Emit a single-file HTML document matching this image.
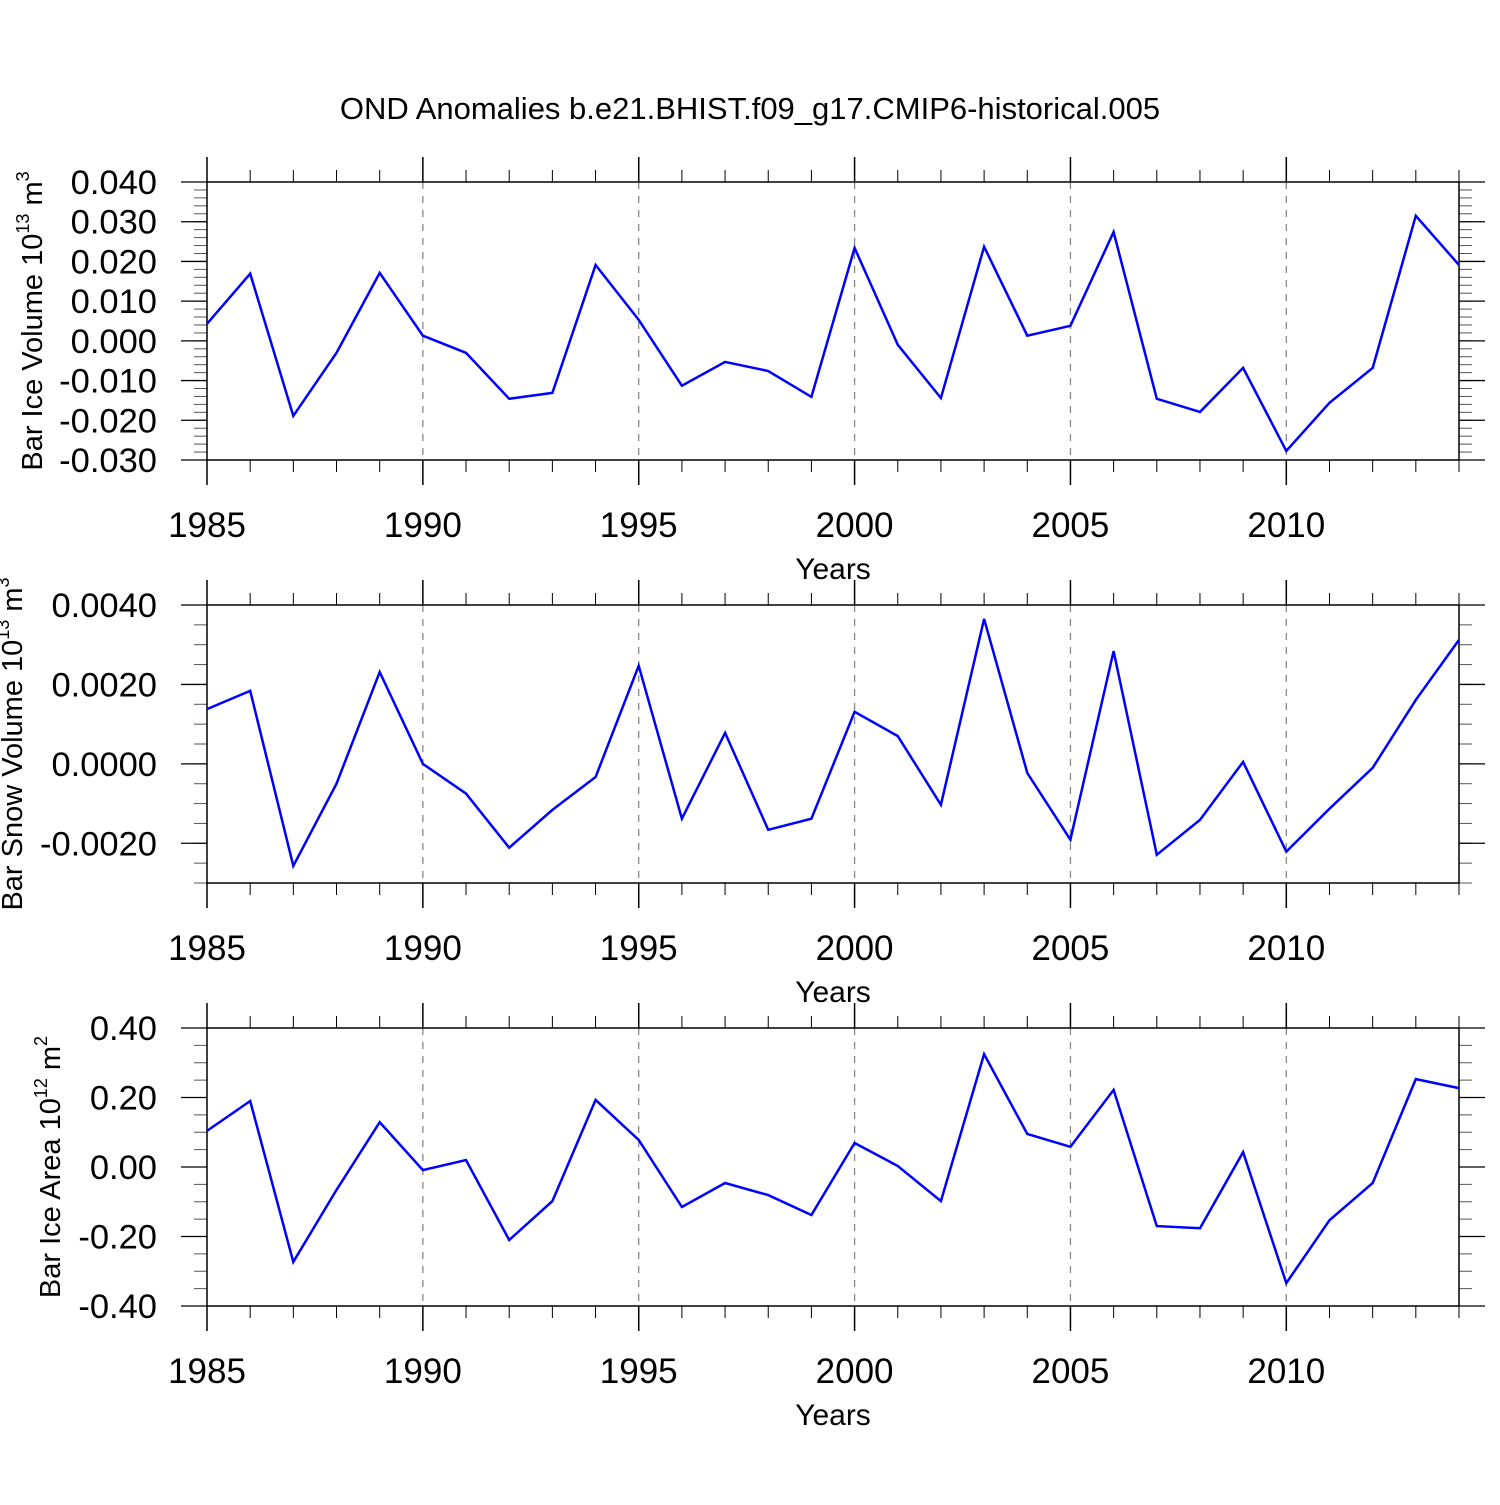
<!DOCTYPE html>
<html><head><meta charset="utf-8"><style>
body{margin:0;background:#fff}
svg text{font-family:"Liberation Sans",sans-serif;fill:#000}
</style></head><body>
<svg id="chart" width="1500" height="1500" xmlns="http://www.w3.org/2000/svg">
<rect width="1500" height="1500" fill="#fff"/>
<text x="750" y="119" font-size="31" text-anchor="middle">OND Anomalies b.e21.BHIST.f09_g17.CMIP6-historical.005</text>
</svg>
<script>
const years = [1985,1986,1987,1988,1989,1990,1991,1992,1993,1994,1995,1996,1997,1998,1999,2000,2001,2002,2003,2004,2005,2006,2007,2008,2009,2010,2011,2012,2013,2014];
const iceVolume = [0.0043,0.0169,-0.0189,-0.003,0.0171,0.0013,-0.003,-0.0146,-0.0131,0.0191,0.0053,-0.0113,-0.0053,-0.0076,-0.0141,0.0234,-0.001,-0.0144,0.0237,0.0013,0.0038,0.0274,-0.0146,-0.0179,-0.0068,-0.0277,-0.0156,-0.0068,0.0315,0.0191];
const snowVolume = [0.00138,0.00184,-0.00257,-0.0005,0.00231,0,-0.00075,-0.00211,-0.00116,-0.00033,0.00247,-0.00138,0.00078,-0.00166,-0.00138,0.00131,0.0007,-0.00103,0.00365,-0.00023,-0.00191,0.00284,-0.00229,-0.00141,0.00005,-0.00221,-0.00113,-0.0001,0.00161,0.00312];
const iceArea = [0.104,0.19,-0.273,-0.066,0.129,-0.009,0.02,-0.21,-0.098,0.193,0.078,-0.115,-0.046,-0.081,-0.138,0.069,0.003,-0.098,0.325,0.095,0.058,0.222,-0.17,-0.176,0.043,-0.334,-0.153,-0.046,0.253,0.227];
const xTickLabels = [1985,1990,1995,2000,2005,2010];
const iceVolTicks = [0.04,0.03,0.02,0.01,0,-0.01,-0.02,-0.03];
const snowTicks = [0.004,0.002,0,-0.002];
const areaTicks = [0.4,0.2,0,-0.2,-0.4];

const NS="http://www.w3.org/2000/svg";
const svg=document.getElementById('chart');
function mk(tag,attrs,parent){const e=document.createElementNS(NS,tag);for(const k in attrs)e.setAttribute(k,attrs[k]);(parent||svg).appendChild(e);return e;}
const X0=207,X1=1459;
function xs(y){return X0+(y-1985)*(X1-X0)/29;}

function panel(name,top,ymin,ymax,ticks,minorStep,dec,vals,titleMain,exp,titleX,expUnit){
  const bot=top+278;
  const g=mk('g',{});
  
  
  const ys=v=>top+(ymax-v)/(ymax-ymin)*278;
  for(let yr=1990;yr<=2010;yr+=5){
    const l=mk('line',{x1:xs(yr),x2:xs(yr),y1:top,y2:bot,stroke:'#888','stroke-width':1.3,'stroke-dasharray':'7,7'},g);
    
    
  }
  for(let yr=1985;yr<=2014;yr++){
    const major=yr%5===0,len=major?25:12,x=xs(yr);
    mk('line',{x1:x,x2:x,y1:top-len,y2:top,stroke:'#000','stroke-width':major?1.5:1},g);
    mk('line',{x1:x,x2:x,y1:bot,y2:bot+len,stroke:'#000','stroke-width':major?1.5:1},g);
  }
  const n=Math.round((ymax-ymin)/minorStep);
  for(let i=0;i<=n;i++){
    const y=ys(ymax-i*minorStep);
    mk('line',{x1:X0-13,x2:X0,y1:y,y2:y,stroke:'#555','stroke-width':1},g);
    mk('line',{x1:X1,x2:X1+13,y1:y,y2:y,stroke:'#555','stroke-width':1},g);
  }
  ticks.forEach(t=>{
    const y=ys(t);
    mk('line',{x1:X0-26,x2:X0,y1:y,y2:y,stroke:'#000','stroke-width':1.3},g);
    mk('line',{x1:X1,x2:X1+26,y1:y,y2:y,stroke:'#000','stroke-width':1.3},g);
    const tx=mk('text',{x:157,y:y+12,'font-size':34.5,'text-anchor':'end'},g);
    
    
    tx.textContent=t.toFixed(dec);
  });
  const fr=mk('rect',{x:X0,y:top,width:X1-X0,height:278,fill:'none',stroke:'#000','stroke-width':1.5},g);
  
  
  xTickLabels.forEach(yr=>{
    const tx=mk('text',{x:xs(yr),y:bot+77,'font-size':35,'text-anchor':'middle'},g);
    
    
    tx.textContent=yr;
  });
  const xt=mk('text',{x:833,y:bot+119,'font-size':30,'text-anchor':'middle'},g);
  
  
  xt.textContent='Years';
  const pts=vals.map((v,i)=>xs(years[i]).toFixed(1)+','+ys(v).toFixed(1)).join(' ');
  const pl=mk('polyline',{points:pts,fill:'none',stroke:'#0000ff','stroke-width':2.5,'stroke-linejoin':'miter'},g);
  
  
  const cy=(top+bot)/2;
  const yt=mk('text',{x:titleX,y:cy,'font-size':29,'text-anchor':'middle',transform:`rotate(-90 ${titleX} ${cy})`,dy:10},g);
  
  
  yt.appendChild(document.createTextNode(titleMain+' 10'));
  const s1=mk('tspan',{'font-size':18,dy:-13},yt);s1.textContent=exp;
  const s2=mk('tspan',{'font-size':29,dy:13},yt);s2.textContent=' m';
  const s3=mk('tspan',{'font-size':18,dy:-13},yt);s3.textContent=expUnit;
}
panel('ice-volume',182,-0.03,0.04,iceVolTicks,0.002,3,iceVolume,'Bar Ice Volume','13',32,'3');
panel('snow-volume',605,-0.003,0.004,snowTicks,0.0005,4,snowVolume,'Bar Snow Volume','13',12,'3');
panel('ice-area',1028,-0.4,0.4,areaTicks,0.05,2,iceArea,'Bar Ice Area','12',50,'2');
</script>
</body></html>
